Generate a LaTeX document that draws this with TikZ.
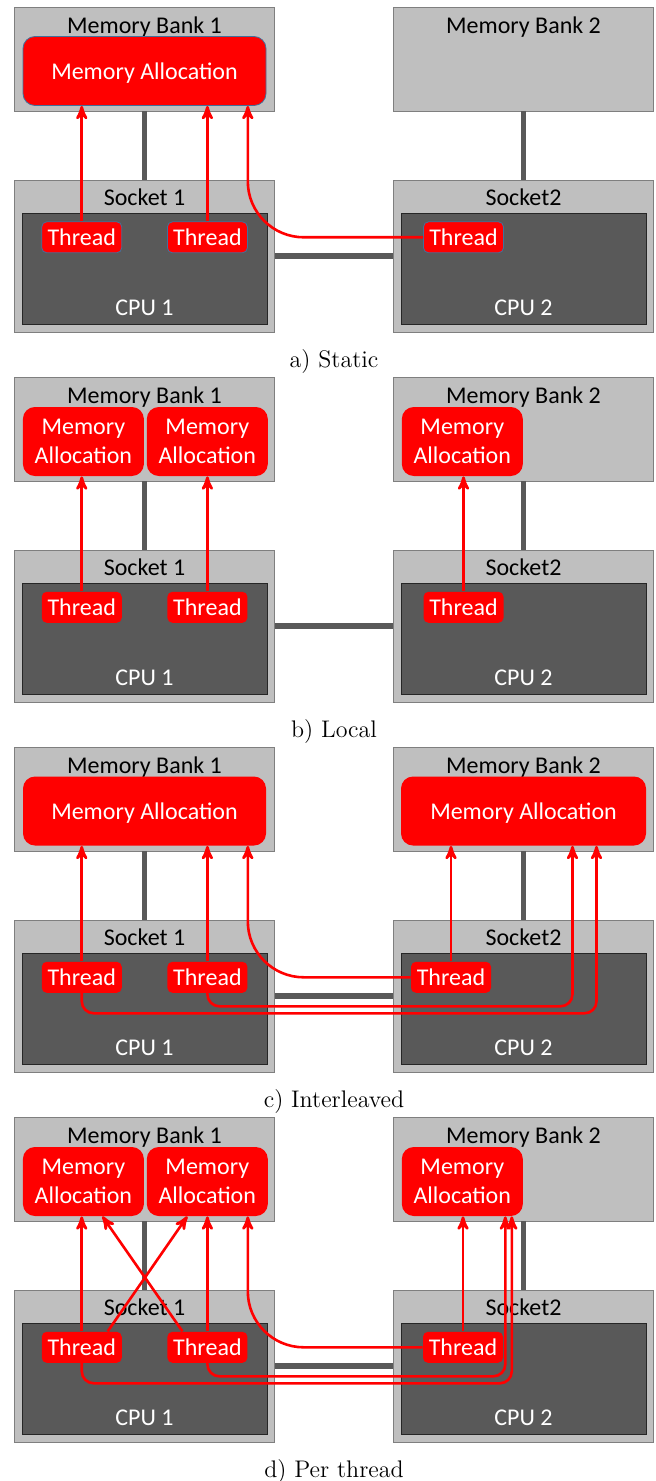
\documentclass[tikz,border=0pt]{standalone}
\usepackage{fontspec}
\newfontfamily\labelfont{Carlito}
\usetikzlibrary{arrows}
\definecolor{boxgray}{RGB}{191,191,191}
\definecolor{rimgray}{RGB}{127,127,127}
\definecolor{cpugray}{RGB}{89,89,89}
\definecolor{rimblue}{RGB}{65,113,156}

\begin{document}
\begin{tikzpicture}[x=0.5pt,y=-0.5pt,>=stealth',
    every node/.style={font=\labelfont\fontsize{12}{14.5}\selectfont,text depth=0pt},
    bank/.style={rectangle,draw=rimgray,fill=boxgray,minimum width=130pt,minimum height=52pt},
    socket/.style={rectangle,draw=rimgray,fill=boxgray,minimum width=130pt,minimum height=76pt},
    cpu/.style={rectangle,draw=black!85,fill=cpugray,minimum width=122.5pt,minimum height=55.5pt},
    alloc/.style={rectangle,rounded corners=6pt,fill=red,text=white,align=center,inner sep=0pt,minimum height=34.5pt},
    thread/.style={rectangle,rounded corners=2.5pt,fill=red,text=white,inner sep=0pt,minimum width=40pt,minimum height=15.5pt},
    link/.style={draw=cpugray,line width=2.75pt},
    access/.style={->,draw=red,line width=1.3pt},
    rim a/.style={draw=rimblue,line width=0.4pt},
    rim b/.style={}, rim c/.style={}, rim d/.style={},
    caption/.style={font=\rmfamily\fontsize{12}{14}\selectfont}]
  \useasboundingbox (0,0) rectangle (655,1481);

  % the same two sockets and banks in every panel
  \foreach \pan/\dy/\tx/\ttl in {a/0/463.5/a) Static, b/370/463.5/b) Local,
                                 c/740/451/c) Interleaved, d/1110/463/d) Per thread} {
    \begin{scope}[shift={(0,\dy)}]
      \node[bank, label={[yshift=17pt]center:Memory Bank 1}] (\pan-mb1) at (144.5,59) {};
      \node[bank, label={[yshift=17pt]center:Memory Bank 2}] (\pan-mb2) at (523.5,59) {};
      \node[socket, label={[yshift=29.5pt]center:Socket 1}] (\pan-s1) at (144.5,256) {};
      \node[socket, label={[yshift=29.5pt]center:Socket2}] (\pan-s2) at (523.5,256) {};
      \node[cpu, label={[yshift=-19.75pt,text=white]center:CPU 1}] (\pan-c1) at (144.5,268.5) {};
      \node[cpu, label={[yshift=-19.75pt,text=white]center:CPU 2}] (\pan-c2) at (523.5,268.5) {};
      \draw[link] (\pan-mb1) -- (\pan-s1);
      \draw[link] (\pan-mb2) -- (\pan-s2);
      \draw[link] (\pan-s1) -- (\pan-s2);
      \node[thread, rim \pan] (\pan-t1) at (81.75,237.3) {Thread};
      \node[thread, rim \pan] (\pan-t2) at (207.4,237.3) {Thread};
      \node[thread, rim \pan] (\pan-t3) at (\tx,237.3) {Thread};
      \node[caption] (\pan-cap) at (334,358) {\ttl};
    \end{scope}
  }

  % a) Static
  \node[alloc, rim a, minimum width=121.5pt] (a-ma1) at (144.5,71) {Memory Allocation};
  \draw[access] (a-t1) -- (a-t1 |- a-ma1.south);
  \draw[access] (a-t2) -- (a-t2 |- a-ma1.south);
  \draw[access, rounded corners=28pt] (a-t3) -| (a-t2.east |- a-ma1.south);

  % b) Local
  \begin{scope}[shift={(0,370)}]
    \node[alloc, minimum width=60.5pt] (b-ma1) at (83.4,71.5) {Memory\\Allocation};
    \node[alloc, minimum width=60.5pt] (b-ma2) at (207.3,71.5) {Memory\\Allocation};
    \node[alloc, minimum width=60.5pt] (b-ma3) at (462.3,71.5) {Memory\\Allocation};
  \end{scope}
  \draw[access] (b-t1) -- (b-t1 |- b-ma1.south);
  \draw[access] (b-t2) -- (b-t2 |- b-ma2.south);
  \draw[access] (b-t3) -- (b-t3 |- b-ma3.south);

  % c) Interleaved
  \begin{scope}[shift={(0,740)}]
    \node[alloc, minimum width=121.5pt] (c-ma1) at (144.5,71) {Memory Allocation};
    \node[alloc, minimum width=122.5pt] (c-ma2) at (523.5,71) {Memory Allocation};
  \end{scope}
  \draw[access] (c-t1) -- (c-t1 |- c-ma1.south);
  \draw[access] (c-t2) -- (c-t2 |- c-ma1.south);
  \draw[access] (c-t3) -- (c-t3 |- c-ma2.south);
  \draw[access, rounded corners=28pt] (c-t3) -| (c-t2.east |- c-ma1.south);
  \draw[access, rounded corners=6pt] (c-t2) -- ++(0,29) -| ([xshift=24.5pt]c-ma2.south);
  \draw[access, rounded corners=6pt] (c-t1) -- ++(0,36) -| ([xshift=36.5pt]c-ma2.south);

  % d) Per thread
  \begin{scope}[shift={(0,1110)}]
    \node[alloc, minimum width=60.5pt] (d-ma1) at (83.4,71.5) {Memory\\Allocation};
    \node[alloc, minimum width=60.5pt] (d-ma2) at (207.3,71.5) {Memory\\Allocation};
    \node[alloc, minimum width=60.5pt] (d-ma3) at (462.3,71.5) {Memory\\Allocation};
  \end{scope}
  \draw[access] (d-t1) -- (d-t1 |- d-ma1.south);
  \draw[access] (d-t2) -- (d-t2 |- d-ma2.south);
  \draw[access] ([xshift=-7.25pt]d-t1.north east) -- ([xshift=-10pt]d-ma2.south);
  \draw[access] ([xshift=7.75pt]d-t2.north west) -- ([xshift=9.5pt]d-ma1.south);
  \draw[access] (d-t3) -- (d-t3 |- d-ma3.south);
  \draw[access, rounded corners=28pt] (d-t3) -| (d-t2.east |- d-ma2.south);
  \draw[access, rounded corners=6pt] (d-t2) -- ++(0,29) -| ([xshift=21.5pt]d-ma3.south);
  \draw[access, rounded corners=6pt] (d-t1) -- ++(0,36) -| ([xshift=24.75pt]d-ma3.south);
\end{tikzpicture}
\end{document}
